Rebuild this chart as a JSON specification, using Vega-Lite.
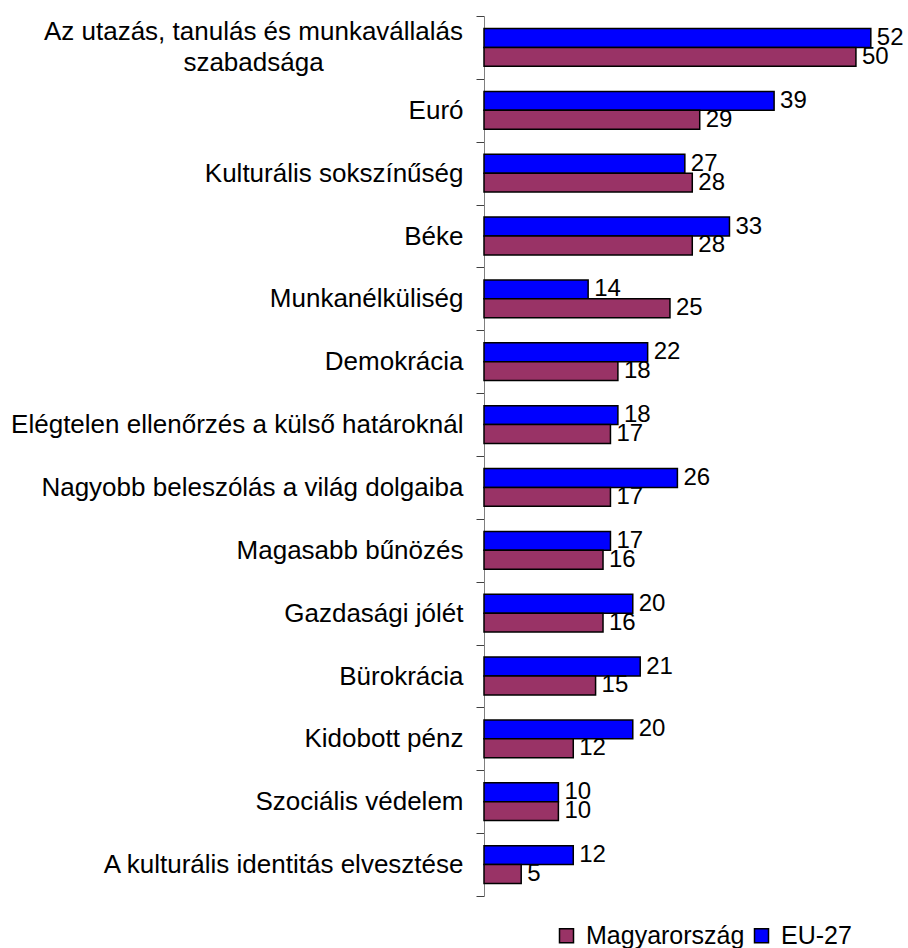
{
  "$schema": "https://vega.github.io/schema/vega-lite/v6.json",
  "autosize": {"type": "none"},
  "padding": {"left": 484, "top": 16, "right": 0, "bottom": 52},
  "width": 424,
  "height": 880,
  "background": "white",
  "config": {
    "view": {"stroke": null},
    "font": "Liberation Sans",
    "text": {"font": "Liberation Sans"}
  },
  "data": {
    "values": [
      {"category": "Az utazás, tanulás és munkavállalás szabadsága", "series": "EU-27", "value": 52},
      {"category": "Az utazás, tanulás és munkavállalás szabadsága", "series": "Magyarország", "value": 50},
      {"category": "Euró", "series": "EU-27", "value": 39},
      {"category": "Euró", "series": "Magyarország", "value": 29},
      {"category": "Kulturális sokszínűség", "series": "EU-27", "value": 27},
      {"category": "Kulturális sokszínűség", "series": "Magyarország", "value": 28},
      {"category": "Béke", "series": "EU-27", "value": 33},
      {"category": "Béke", "series": "Magyarország", "value": 28},
      {"category": "Munkanélküliség", "series": "EU-27", "value": 14},
      {"category": "Munkanélküliség", "series": "Magyarország", "value": 25},
      {"category": "Demokrácia", "series": "EU-27", "value": 22},
      {"category": "Demokrácia", "series": "Magyarország", "value": 18},
      {"category": "Elégtelen ellenőrzés a külső határoknál", "series": "EU-27", "value": 18},
      {"category": "Elégtelen ellenőrzés a külső határoknál", "series": "Magyarország", "value": 17},
      {"category": "Nagyobb beleszólás a világ dolgaiba", "series": "EU-27", "value": 26},
      {"category": "Nagyobb beleszólás a világ dolgaiba", "series": "Magyarország", "value": 17},
      {"category": "Magasabb bűnözés", "series": "EU-27", "value": 17},
      {"category": "Magasabb bűnözés", "series": "Magyarország", "value": 16},
      {"category": "Gazdasági jólét", "series": "EU-27", "value": 20},
      {"category": "Gazdasági jólét", "series": "Magyarország", "value": 16},
      {"category": "Bürokrácia", "series": "EU-27", "value": 21},
      {"category": "Bürokrácia", "series": "Magyarország", "value": 15},
      {"category": "Kidobott pénz", "series": "EU-27", "value": 20},
      {"category": "Kidobott pénz", "series": "Magyarország", "value": 12},
      {"category": "Szociális védelem", "series": "EU-27", "value": 10},
      {"category": "Szociális védelem", "series": "Magyarország", "value": 10},
      {"category": "A kulturális identitás elvesztése", "series": "EU-27", "value": 12},
      {"category": "A kulturális identitás elvesztése", "series": "Magyarország", "value": 5}
    ]
  },
  "encoding": {
    "y": {
      "field": "category",
      "type": "nominal",
      "sort": null,
      "title": null,
      "scale": {"paddingInner": 0, "paddingOuter": 0},
      "axis": {
        "domainColor": "#808080",
        "domainWidth": 1,
        "tickColor": "#404040",
        "tickSize": 8,
        "tickBand": "extent",
        "labelFont": "Liberation Sans",
        "labelFontSize": 26,
        "labelColor": "#000000",
        "labelLimit": 600,
        "labelLineHeight": 31,
        "labelAlign": {"condition": {"test": "datum.value == 'Az utazás, tanulás és munkavállalás szabadsága'", "value": "center"}, "value": "right"},
        "labelPadding": {"condition": {"test": "datum.value == 'Az utazás, tanulás és munkavállalás szabadsága'", "value": 223}, "value": 13},
        "labelOffset": {"condition": {"test": "datum.value == 'Az utazás, tanulás és munkavállalás szabadsága'", "value": -16}, "value": 0},
        "labelExpr": "datum.value == 'Az utazás, tanulás és munkavállalás szabadsága' ? ['Az utazás, tanulás és munkavállalás', 'szabadsága'] : datum.value"
      }
    },
    "yOffset": {
      "field": "series",
      "type": "nominal",
      "scale": {"domain": ["EU-27", "Magyarország"], "paddingInner": 0, "paddingOuter": 0.663}
    },
    "x": {
      "field": "value",
      "type": "quantitative",
      "scale": {"domain": [0, 57], "nice": false},
      "axis": null
    }
  },
  "layer": [
    {
      "mark": {"type": "bar", "stroke": "#000000", "strokeWidth": 1.5},
      "encoding": {
        "color": {
          "field": "series",
          "type": "nominal",
          "scale": {"domain": ["Magyarország", "EU-27"], "range": ["#993366", "#0000FF"]},
          "legend": {
            "title": null,
            "orient": "none",
            "legendX": 70,
            "legendY": 907,
            "direction": "horizontal",
            "symbolType": "square",
            "symbolSize": 196,
            "symbolStrokeColor": "#000000",
            "symbolStrokeWidth": 1.5,
            "symbolOpacity": 1,
            "labelFont": "Liberation Sans",
            "labelFontSize": 25,
            "labelColor": "#000000",
            "labelOffset": 7,
            "columnPadding": 4,
            "padding": 0,
            "labelLimit": 400
          }
        }
      }
    },
    {
      "mark": {"type": "text", "align": "left", "baseline": "middle", "dx": 6, "fontSize": 24, "color": "#000000", "font": "Liberation Sans"},
      "encoding": {"text": {"field": "value", "type": "quantitative"}}
    }
  ]
}
